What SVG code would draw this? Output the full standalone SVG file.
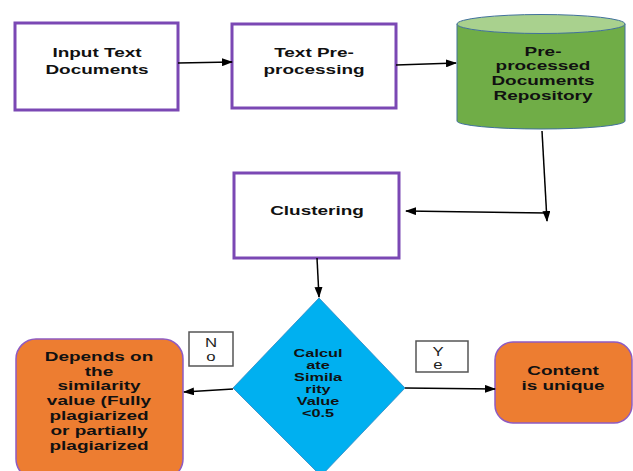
<svg xmlns="http://www.w3.org/2000/svg" width="633" height="471" viewBox="0 0 633 471">
<defs>
<marker id="ah" markerUnits="userSpaceOnUse" markerWidth="11" markerHeight="8" refX="10" refY="4" orient="auto">
<path d="M0,0 L11,4 L0,8 z" fill="#000"/>
</marker>
<style>
.box{fill:#fff;stroke:#7B48B4;stroke-width:3}
.rnd{fill:#ED7D31;stroke:#8E5BC2;stroke-width:1.5}
.lbl{fill:#fff;stroke:#555;stroke-width:1.5}
.t{font-family:"Liberation Sans",Arial,sans-serif;font-weight:bold;font-size:12px;fill:#111;text-anchor:middle}
.ts{font-family:"Liberation Sans",Arial,sans-serif;font-weight:bold;font-size:10.5px;fill:#111;text-anchor:middle}
.tr{font-family:"Liberation Sans",Arial,sans-serif;font-size:12px;fill:#222;text-anchor:middle}
.c{stroke:#000;stroke-width:1.5;fill:none;marker-end:url(#ah)}
</style>
</defs>
<rect width="633" height="471" fill="#fff"/>

<g id="input">
<rect class="box" x="15" y="23" width="163" height="87"/>
<g transform="translate(97,0) scale(1.58,1)"><text class="t" x="0" y="57">Input Text</text><text class="t" x="0" y="74">Documents</text></g>
</g>

<g id="preprocessing">
<rect class="box" x="232" y="24" width="164" height="84"/>
<g transform="translate(314,0) scale(1.58,1)"><text class="t" x="0" y="57">Text Pre-</text><text class="t" x="0" y="74">processing</text></g>
</g>

<g id="repository">
<path d="M457,24 L457,121 A84,8 0 0 0 625,121 L625,24 Z" fill="#70AD47" stroke="#41719C" stroke-width="1"/>
<ellipse cx="541" cy="24" rx="84" ry="9.5" fill="#A9D18E" stroke="#41719C" stroke-width="1"/>
<g transform="translate(543,0) scale(1.58,1)"><text class="t" x="0" y="56">Pre-</text><text class="t" x="0" y="70.5">processed</text><text class="t" x="0" y="85">Documents</text><text class="t" x="0" y="100">Repository</text></g>
</g>

<g id="clustering">
<rect class="box" x="234" y="173" width="165" height="85"/>
<g transform="translate(317,0) scale(1.58,1)"><text class="t" x="0" y="215">Clustering</text></g>
</g>

<g id="decision">
<path d="M319,298 L405,388 L321,476 L233,388 Z" fill="#00B0F0" stroke="#2E86C1" stroke-width="0.8"/>
<g transform="translate(318,0) scale(1.55,1)"><text class="ts" x="0" y="357">Calcul</text><text class="ts" x="0" y="369.5">ate</text><text class="ts" x="0" y="381.5">Simila</text><text class="ts" x="0" y="393.5">rity</text><text class="ts" x="0" y="405">Value</text><text class="ts" x="0" y="417">&lt;0.5</text></g>
</g>

<g id="depends">
<rect class="rnd" x="16" y="339" width="167" height="140" rx="20"/>
<g transform="translate(99,0) scale(1.58,1)"><text class="t" x="0" y="361">Depends on</text><text class="t" x="0" y="376">the</text><text class="t" x="0" y="390.5">similarity</text><text class="t" x="0" y="405">value (Fully</text><text class="t" x="0" y="420">plagiarized</text><text class="t" x="0" y="435">or partially</text><text class="t" x="0" y="450">plagiarized</text></g>
</g>

<g id="unique">
<rect class="rnd" x="495" y="342" width="137" height="81" rx="18"/>
<g transform="translate(563,0) scale(1.58,1)"><text class="t" x="0" y="375">Content</text><text class="t" x="0" y="390">is unique</text></g>
</g>

<g id="label-no">
<rect class="lbl" x="189" y="332" width="44" height="34"/>
<g transform="translate(211,0) scale(1.4,1)"><text class="tr" x="0" y="347.5">N</text><text class="tr" x="0" y="361.5">o</text></g>
</g>

<g id="label-yes">
<rect class="lbl" x="416" y="341" width="52" height="31"/>
<g transform="translate(438,0) scale(1.4,1)"><text class="tr" x="0" y="356.5">Y</text><text class="tr" x="0" y="369.5">e</text></g>
</g>

<g id="connectors">
<path class="c" d="M178,63 L232,62"/>
<path class="c" d="M396,65 L456,63"/>
<path class="c" d="M542,131 L547,221"/>
<path class="c" d="M547,213 L406,211"/>
<path class="c" d="M317,258 L319,297"/>
<path class="c" d="M233,389 L184,392"/>
<path class="c" d="M405,388 L495,389"/>
</g>
</svg>
